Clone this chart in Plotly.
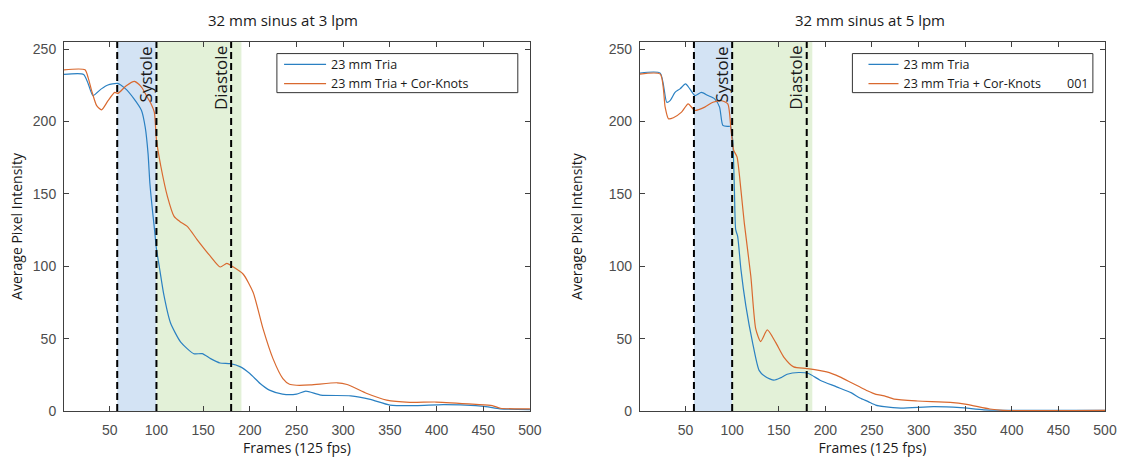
import plotly.graph_objects as go

# ---------------- data ----------------
series_names = ["23 mm Tria", "23 mm Tria + Cor-Knots"]
panel_titles = ["32 mm sinus at 3 lpm", "32 mm sinus at 5 lpm"]

# Left panel (3 lpm)
l_blue_x = [1, 22, 27, 32, 41, 48, 58, 67, 76, 84, 88, 91, 93, 96, 98, 100, 103, 108, 115, 126, 140,
            149, 158, 168, 179, 190, 200, 211, 221, 235, 250, 260, 276, 308, 329, 350, 378, 407, 442,
            455, 468, 500]
l_blue_y = [232.6, 232.6, 226, 218, 222.6, 225.3, 226.4, 222.6, 215.7, 207.7, 196, 178, 157, 137, 125,
            112, 100, 80, 61, 47.6, 39.6, 39.6, 36.2, 33.2, 32.7, 30.5, 25.9, 19, 14.4, 11.7, 11.7,
            13.7, 11, 10.5, 8, 4.1, 3.7, 4.4, 3.7, 2.8, 1.5, 1]
l_orange_x = [1, 23.5, 27, 30.6, 36, 41.2, 48.2, 55.3, 58.8, 67.7, 76.5, 84.2, 90, 94.2, 97.7, 100.1,
              104.8, 111.8, 118.9, 125, 133, 143.5, 157.7, 168.3, 175.3, 182.4, 193, 203.6, 214.2,
              224.8, 235.4, 242.5, 250, 265, 293.6, 304.2, 325.4, 346.6, 371.3, 399.6, 442, 459.6,
              468.4, 485, 500]
l_orange_y = [235.8, 235.8, 230, 221.4, 211, 208.1, 214.5, 220.2, 219.5, 224.8, 227.8, 223.7, 217,
              212.3, 206.5, 187, 168.8, 148.2, 134.5, 131, 127.6, 118.5, 107, 99.5, 102, 99.5, 94.5,
              81.9, 56.7, 36.2, 22.4, 18.5, 17.8, 18, 19.5, 18.3, 12.1, 7.5, 6.0, 6.2, 4.6, 3.7,
              1.9, 1.5, 1.5]

# Right panel (5 lpm)
r_blue_x = [1, 22.8, 29.8, 33.4, 38.7, 44, 50, 54.6, 60, 67, 74, 81.2, 86.5, 90, 95.3, 98.1, 100.6,
            102.4, 103.8, 105.9, 109.4, 114.7, 121.8, 128.9, 135.9, 144.8, 151.8, 159, 171.4, 182,
            194.3, 212, 228, 237, 246, 254, 263, 281, 316, 345, 370, 400, 500]
r_blue_y = [233.5, 233.5, 213.4, 214.5, 220.2, 222.6, 226, 222.6, 218, 220.2, 218, 215.7, 210, 197.4,
            196.7, 196.7, 187, 152.8, 125.3, 120.7, 97.9, 72.7, 47.6, 28.1, 23.6, 21.3, 22.9, 25.4,
            26.6, 25.9, 21.3, 16.7, 12.5, 9, 6.5, 4.1, 3, 2, 3, 2.3, 0.8, 0.5, 0.5]
r_orange_x = [1, 22.8, 28.1, 31.6, 36.9, 45.7, 52.8, 60, 70.6, 79.4, 88.2, 95.3, 98.8, 101.6, 105.2,
              109.4, 113, 120, 125.3, 130.6, 137.7, 146.5, 155.4, 166, 180.2, 201.4, 215.5, 228,
              236.7, 245, 254.4, 263.2, 273.8, 298.7, 334, 351.7, 376.4, 390.5, 500]
r_orange_y = [232.8, 232.8, 210, 202, 202.7, 206.5, 212.3, 207.7, 210, 213.4, 214.5, 212.3, 194,
              180.2, 175.6, 152.8, 130, 93.3, 56.7, 48, 56, 47.6, 37.3, 30.5, 29.3, 27, 23.6, 19.5,
              16.7, 14, 11.5, 10.5, 8.2, 6.9, 6, 4.6, 1.4, 0.5, 0.5]

# phase boundaries (frames)
l_phase = [58, 100, 180]
r_phase = [59, 100, 180]
l_green_end = 191
r_green_end = 186

x_ticks = [50, 100, 150, 200, 250, 300, 350, 400, 450, 500]
y_ticks = [0, 50, 100, 150, 200, 250]

# ---------------- styling ----------------
BLUE = "#2a80c2"
ORANGE = "#d9692f"
AX = "#404040"
TXT_FONT = "Open Sans"

fig = go.Figure()

panels = [
    ("x", "y", "legend", l_blue_x, l_blue_y, l_orange_x, l_orange_y),
    ("x2", "y2", "legend2", r_blue_x, r_blue_y, r_orange_x, r_orange_y),
]
for xa, ya, lg, bx, by, ox, oy in panels:
    fig.add_trace(go.Scatter(x=bx, y=by, mode="lines", name=series_names[0], xaxis=xa, yaxis=ya,
                             line=dict(color=BLUE, width=1.2, shape="spline", smoothing=0.6),
                             legend=lg))
    fig.add_trace(go.Scatter(x=ox, y=oy, mode="lines", name=series_names[1], xaxis=xa, yaxis=ya,
                             line=dict(color=ORANGE, width=1.2, shape="spline", smoothing=0.6),
                             legend=lg))

shapes = []
annotations = []
for xa, ya, phase, gend in [("x", "y", l_phase, l_green_end), ("x2", "y2", r_phase, r_green_end)]:
    shapes.append(dict(type="rect", xref=xa, yref=ya, x0=phase[0], x1=phase[1], y0=0, y1=255,
                       fillcolor="#d3e3f4", line_width=0, layer="below"))
    shapes.append(dict(type="rect", xref=xa, yref=ya, x0=phase[1], x1=gend, y0=0, y1=255,
                       fillcolor="#e3f1d8", line_width=0, layer="below"))
    for p in phase:
        shapes.append(dict(type="line", xref=xa, yref=ya, x0=p, x1=p, y0=0, y1=255,
                           line=dict(color="black", width=2, dash="7px,4px"), layer="above"))
    # legend box
    shapes.append(dict(type="rect", xref=xa, yref=ya, x0=229, x1=487, y0=220, y1=247,
                       line=dict(color="#333333", width=1), fillcolor="rgba(0,0,0,0)", layer="above"))
    annotations.append(dict(x=(phase[0] + phase[1]) / 2 + 9, y=253.5, xref=xa, yref=ya,
                            text="Systole", textangle=-90, showarrow=False, xanchor="center",
                            yanchor="top", font=dict(family=TXT_FONT, size=17, color="#1a1a1a")))
    annotations.append(dict(x=phase[2] - 12, y=253.5, xref=xa, yref=ya,
                            text="Diastole", textangle=-90, showarrow=False, xanchor="center",
                            yanchor="top", font=dict(family=TXT_FONT, size=17, color="#1a1a1a")))

annotations.append(dict(x=470, y=226, xref="x2", yref="y2", text="001", showarrow=False,
                        font=dict(family=TXT_FONT, size=12.5, color="#222222")))
annotations.append(dict(x=0.2102, y=1.0585, xref="paper", yref="paper", text=panel_titles[0],
                        showarrow=False, xanchor="center", yanchor="middle",
                        font=dict(family=TXT_FONT, size=15, color="#1a1a1a")))
annotations.append(dict(x=0.7738, y=1.0585, xref="paper", yref="paper", text=panel_titles[1],
                        showarrow=False, xanchor="center", yanchor="middle",
                        font=dict(family=TXT_FONT, size=15, color="#1a1a1a")))

common_x = dict(range=[1, 500], tickvals=x_ticks, ticks="inside", ticklen=5, tickcolor=AX,
                showline=True, linecolor=AX, linewidth=1, mirror="ticks", showgrid=False,
                zeroline=False, tickfont=dict(family="Liberation Sans", size=14, color="#4d4d4d"),
                ticklabelstandoff=6,
                title=dict(text="Frames (125 fps)", font=dict(family=TXT_FONT, size=14, color="#1a1a1a"),
                           standoff=2))
common_y = dict(range=[0, 255], tickvals=y_ticks, ticks="inside", ticklen=5, tickcolor=AX,
                showline=True, linecolor=AX, linewidth=1, mirror="ticks", showgrid=False,
                zeroline=False, tickfont=dict(family="Liberation Sans", size=14, color="#4d4d4d"),
                ticklabelstandoff=4)

legend_common = dict(bgcolor="rgba(0,0,0,0)", borderwidth=0, xanchor="left", yanchor="top",
                     font=dict(family=TXT_FONT, size=12.5, color="#1a1a1a"), tracegroupgap=0)

fig.update_layout(
    width=1128, height=461,
    margin=dict(l=63.7, r=11.6, t=41.7, b=48.3),
    paper_bgcolor="white", plot_bgcolor="white",
    xaxis=dict(domain=[0, 0.4476], anchor="y", **common_x),
    yaxis=dict(domain=[0, 1], anchor="x",
               title=dict(text="Average Pixel Intensity",
                          font=dict(family=TXT_FONT, size=14, color="#1a1a1a"), standoff=6),
               **common_y),
    xaxis2=dict(domain=[0.5532, 1], anchor="y2", **common_x),
    yaxis2=dict(domain=[0, 1], anchor="x2",
                title=dict(text="Average Pixel Intensity",
                           font=dict(family=TXT_FONT, size=14, color="#1a1a1a"), standoff=22),
                **common_y),
    legend=dict(x=0.2066, y=0.979, itemwidth=42, **legend_common),
    legend2=dict(x=0.7680, y=0.979, itemwidth=30, **legend_common),
    shapes=shapes,
    annotations=annotations,
    showlegend=True,
)

fig.write_html("out.html")
